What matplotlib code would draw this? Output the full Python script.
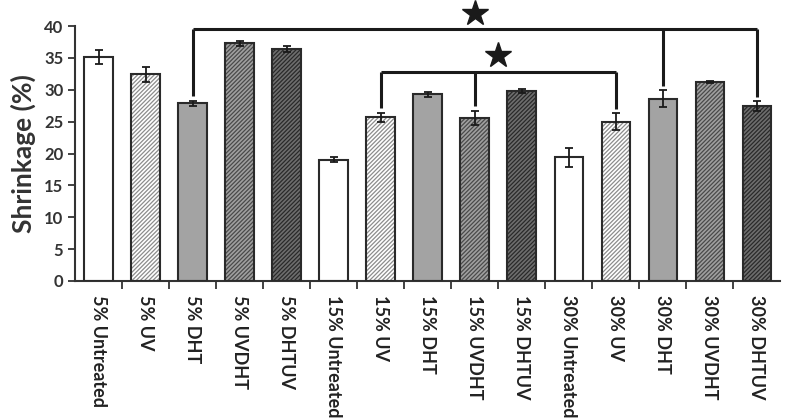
import matplotlib
matplotlib.use("Agg")
import matplotlib.pyplot as plt
import numpy as np

categories = ["5% Untreated", "5% UV", "5% DHT", "5% UVDHT", "5% DHTUV",
              "15% Untreated", "15% UV", "15% DHT", "15% UVDHT", "15% DHTUV",
              "30% Untreated", "30% UV", "30% DHT", "30% UVDHT", "30% DHTUV"]
values = [35.2, 32.4, 27.9, 37.3, 36.4,
          19.0, 25.7, 29.3, 25.6, 29.8,
          19.4, 25.0, 28.6, 31.2, 27.4]
errors = [1.1, 1.2, 0.4, 0.4, 0.5,
          0.4, 0.7, 0.4, 1.1, 0.3,
          1.5, 1.3, 1.3, 0.1, 0.8]
yticks = [0, 5, 10, 15, 20, 25, 30, 35, 40]

# significance brackets: (bar indices, bracket height)
sig_groups = [([2, 12, 14], 39.5), ([6, 8, 11], 32.8)]

plt.rcParams['font.family'] = ['Lato', 'DejaVu Sans']
plt.rcParams['hatch.linewidth'] = 0.9

fig = plt.figure(figsize=(7.87, 4.2), dpi=100)
ax = fig.add_axes([0.0953, 0.331, 0.896, 0.607])

styles = [
    dict(face="white", hatch=None, hcol="white"),
    dict(face="white", hatch="////////", hcol="#8c8c8c"),
    dict(face="#a3a3a3", hatch=None, hcol="#a3a3a3"),
    dict(face="#a0a0a0", hatch="////////", hcol="#4a4a4a"),
    dict(face="#6e6e6e", hatch="////////", hcol="#2a2a2a"),
]

x = np.arange(len(categories))
width = 0.6
for i in range(len(categories)):
    st = styles[i % 5]
    ax.bar(x[i], values[i], width, color=st["face"], hatch=st["hatch"],
           edgecolor=st["hcol"], linewidth=0, zorder=2)
ax.bar(x, values, width, fill=False, edgecolor="#2a2a2a", linewidth=1.5, zorder=3)
ax.errorbar(x, values, yerr=errors, fmt="none", ecolor="#1a1a1a",
            elinewidth=1.3, capsize=3, capthick=1.3, zorder=4)

for idxs, h in sig_groups:
    ax.plot([x[idxs[0]], x[idxs[-1]]], [h, h], color="#1a1a1a", lw=2.2,
            clip_on=False, zorder=5, solid_capstyle="butt")
    for k in idxs:
        low = values[k] + errors[k] + 0.7
        ax.plot([x[k], x[k]], [low, h], color="#1a1a1a", lw=2.2,
                clip_on=False, zorder=5, solid_capstyle="butt")
    mid = (x[idxs[0]] + x[idxs[-1]]) / 2
    ax.plot(mid, h + 2.6, marker="*", markersize=19, color="#1a1a1a",
            clip_on=False, zorder=6)

ax.set_xlim(-0.5, len(categories) - 0.5)
ax.set_ylim(0, 40)
ax.set_yticks(yticks)
ax.set_yticklabels([str(t) for t in yticks], fontsize=12, fontweight="bold",
                   color="#333333")
ax.set_xticks(x)
ax.set_xticklabels(categories, rotation=-90, fontsize=13, fontweight="bold",
                   color="#222222", va="top")
ax.tick_params(axis="x", length=0, pad=10)
ax.set_xticks(np.arange(0.5, len(categories) - 0.5, 1.0), minor=True)
ax.tick_params(axis="x", which="minor", length=6, width=1.3, color="#333333",
               direction="out")
ax.tick_params(axis="y", length=5, width=1.3, color="#333333", direction="out")
ax.set_ylabel("Shrinkage (%)", fontsize=19, fontweight="bold", color="#333333",
              labelpad=6)

for side in ["top", "right"]:
    ax.spines[side].set_visible(False)
for side in ["left", "bottom"]:
    ax.spines[side].set_linewidth(1.5)
    ax.spines[side].set_color("#333333")

fig.savefig("out.png", dpi=100)
